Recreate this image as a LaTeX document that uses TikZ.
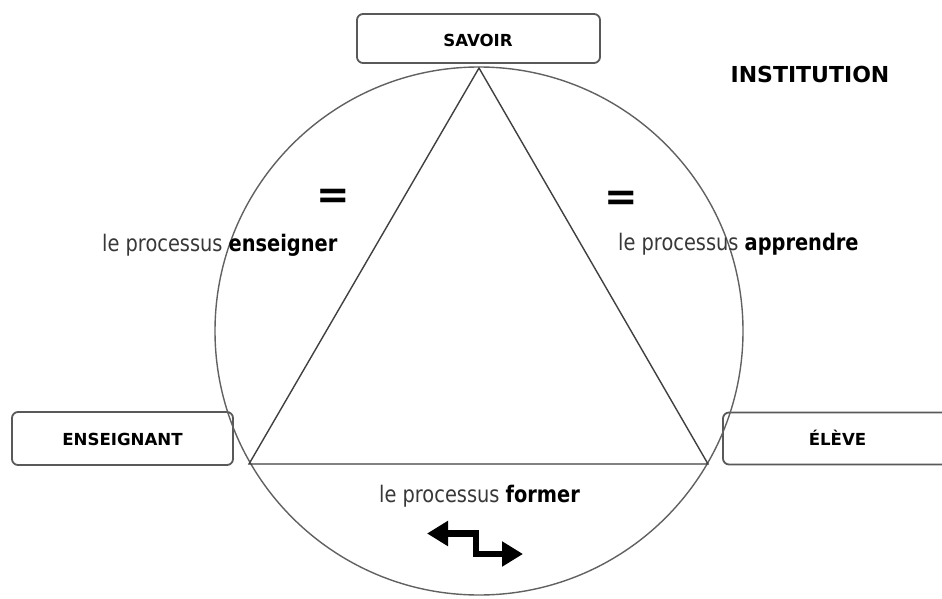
\documentclass[tikz,border=0pt]{standalone}
\usepackage{fontspec}
\setmainfont{DejaVu Sans}
\newfontfamily\labfont[FakeStretch=0.85]{DejaVu Sans}
\usetikzlibrary{arrows.meta}
\begin{document}
\begin{tikzpicture}[x=1pt,y=-1pt,
  box/.style={draw=black!65, line width=1.8pt, rounded corners=6pt, inner sep=0pt},
  boxlabel/.style={font=\fontsize{16.6}{18}\selectfont\bfseries, text=black, inner sep=0pt},
  proc/.style={font=\labfont\fontsize{22.8}{26}\selectfont, text=black!78, inner sep=0pt},
  eqsign/.style={font=\fontsize{40}{42}\selectfont\bfseries, text=black, inner sep=0pt},
  circ/.style={draw=black!62, line width=1.4pt},
  tri/.style={draw=black!75, line width=1.4pt},
  bigarrow/.style={line width=6.5pt, black, {Triangle[length=21pt,width=24pt]}-{Triangle[length=21pt,width=24pt]}}
]
\clip (0,0) rectangle (942,599);
\fill[white] (0,0) rectangle (942,599);
% boxes
\node[box, minimum width=243pt, minimum height=49pt] (savoirbox) at (478.5,38.5) {};
\node[box, minimum width=221pt, minimum height=53pt] (ensbox) at (122.5,438.5) {};
\node[box, minimum width=232pt, minimum height=52pt] (elevebox) at (839,438.5) {};
\node[boxlabel, anchor=base] (savoir) at (478,46.5) {SAVOIR};
\node[boxlabel, anchor=base] (ens) at (122.5,445) {ENSEIGNANT};
\node[boxlabel, anchor=base] (eleve) at (837.5,445) {ÉLÈVE};
% circle and triangle
\coordinate (O) at (479,331);
\draw[circ] (O) circle[radius=264];
\coordinate (A) at (479,68);
\coordinate (B) at (249,464);
\coordinate (C) at (708,464);
\draw[tri, line join=miter] (A) -- (B) -- (C) -- cycle;
% labels
\node[font=\fontsize{22}{24}\selectfont\bfseries, anchor=base, inner sep=0pt] (inst) at (810,83) {INSTITUTION};
\node[eqsign, anchor=base] (eqL) at (333.5,208.5) {=};
\node[eqsign, anchor=base] (eqR) at (621.5,210.5) {=};
\node[proc, anchor=base west] (penseigner) at (102,251) {le processus {\color{black}\bfseries enseigner}};
\node[proc, anchor=base west] (papprendre) at (618,250) {le processus {\color{black}\bfseries apprendre}};
\node[proc, anchor=base] (pformer) at (479.5,502) {le processus {\color{black}\bfseries former}};
% arrow
\coordinate (a1) at (427,533.5);
\coordinate (a2) at (476,533.5);
\coordinate (a3) at (476,554);
\coordinate (a4) at (523,554);
\draw[bigarrow] (a1) -- (a2) -- (a3) -- (a4);
\end{tikzpicture}
\end{document}
